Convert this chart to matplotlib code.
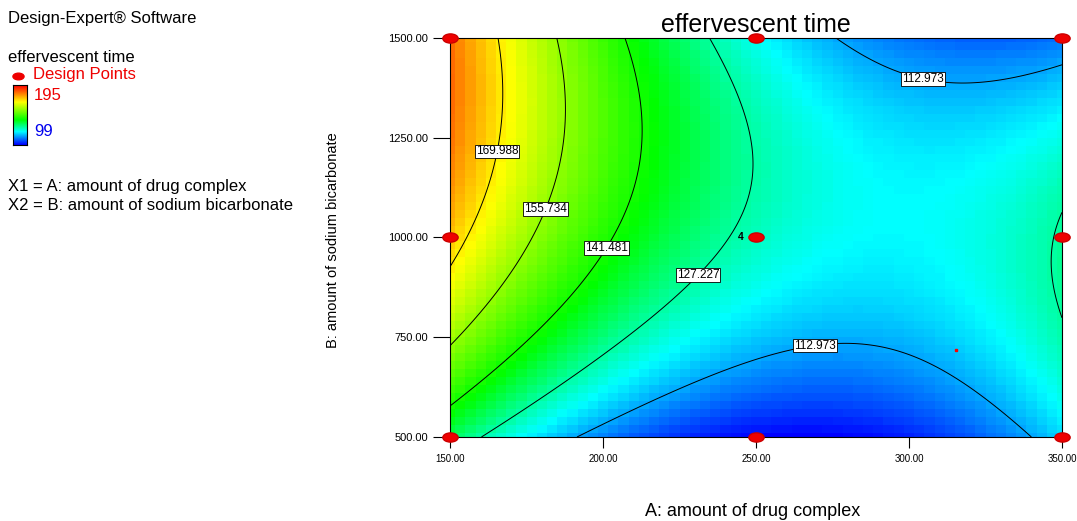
import numpy as np
import matplotlib.pyplot as plt
from matplotlib.colors import LinearSegmentedColormap
from matplotlib.path import Path

plt.rcParams['font.family'] = ['Liberation Sans', 'DejaVu Sans']

# design points and the model's predicted effervescent time at each
design_A = [150, 250, 350, 150, 250, 350, 150, 250, 350]
design_B = [500, 500, 500, 1000, 1000, 1000, 1500, 1500, 1500]
response = [133, 99.6, 117, 174, 125, 128, 183, 121, 108.6]

levels = [112.973, 127.227, 141.481, 155.734, 169.988]
zmin, zmax = 99, 195
center_runs = '4'


def terms(a, b):
    return [np.ones_like(a), a, b, a * b, a * a, b * b, a * a * b, a * b * b, a * a * b * b]


# full 3x3 model in coded units
ca = (np.array(design_A) - 250) / 100
cb = (np.array(design_B) - 1000) / 500
coef, *_ = np.linalg.lstsq(np.column_stack(terms(ca, cb)), np.array(response), rcond=None)


def model(a, b):
    return sum(c * t for c, t in zip(coef, terms(a, b)))


W, H = 1077, 521
fig = plt.figure(figsize=(W / 100, H / 100), dpi=100)
ax = fig.add_axes([450 / W, 1 - 437 / H, 612 / W, 399 / H])

cmap = LinearSegmentedColormap.from_list('de', [(0, '#0000ff'), (0.22, '#00ffff'), (0.42, '#00ff00'),
                                                (0.72, '#ffff00'), (1, '#ff0000')])

GA, GB = np.meshgrid(np.linspace(-1, 1, 61), np.linspace(-1, 1, 51))
ax.pcolormesh(250 + 100 * GA, 1000 + 500 * GB, model(GA, GB), cmap=cmap, vmin=zmin, vmax=zmax,
              shading='nearest')

FA, FB = np.meshgrid(np.linspace(-1, 1, 300), np.linspace(-1, 1, 300))
cs = ax.contour(250 + 100 * FA, 1000 + 500 * FB, model(FA, FB), levels=levels, colors='black',
                linewidths=0.7)
lab_pos = [(164, 1218), (181, 1073), (200, 980), (230, 915), (305, 1414), (269, 742)]
texts = ax.clabel(cs, fmt='%.3f', fontsize=8.5, inline=False, manual=lab_pos)
for t in texts:
    t.set_rotation(0)
    t.set_bbox(dict(facecolor='white', edgecolor='black', linewidth=0.6, pad=0.6))

ax.set_xlim(150, 350)
ax.set_ylim(500, 1500)
ax.set_xticks([150, 200, 250, 300, 350])
ax.set_yticks([500, 750, 1000, 1250, 1500])
ax.xaxis.set_major_formatter('{x:.2f}')
ax.yaxis.set_major_formatter('{x:.2f}')
ax.tick_params(axis='x', labelsize=7, length=8, width=0.8, pad=4)
ax.tick_params(axis='y', labelsize=8, length=12, width=0.8, pad=4)
for s in ax.spines.values():
    s.set_linewidth(0.8)

unit = Path.unit_circle()
ell = Path(unit.vertices * [1, 0.6], unit.codes)
ax.plot(design_A, design_B, ls='none', marker=ell, markersize=11, color='#ee0000',
        mec='#cc0000', clip_on=False, zorder=5)
ax.text(246, 1000, center_runs, fontsize=7.5, fontweight='bold', ha='right', va='center', zorder=6)
ax.plot([315.5], [719], ls='none', marker='s', markersize=1.5, color='red')

ax.set_title('effervescent time', fontsize=18, pad=4)


def fx(x):
    return x / W


def fy(y):
    return 1 - y / H


fig.text(fx(8), fy(19), 'Design-Expert® Software', fontsize=12, va='center')
fig.text(fx(8), fy(57), 'effervescent time', fontsize=12, va='center')
fig.text(fx(33), fy(75), 'Design Points', fontsize=12, va='center', color='#ee0000')
fig.lines.append(plt.Line2D([fx(18)], [fy(76)], marker=ell, markersize=8, color='#ee0000',
                            transform=fig.transFigure))
cax = fig.add_axes([fx(13), fy(145), 14 / W, 60 / H])
cax.imshow(np.linspace(1, 0, 100)[:, None], aspect='auto', cmap=cmap)
cax.set_xticks([])
cax.set_yticks([])
fig.text(fx(34), fy(95), str(zmax), fontsize=12, va='center', color='#ee0000')
fig.text(fx(34), fy(132), str(zmin), fontsize=12, va='center', color='#0000ee')
fig.text(fx(8), fy(187), 'X1 = A: amount of drug complex', fontsize=12, va='center')
fig.text(fx(8), fy(206), 'X2 = B: amount of sodium bicarbonate', fontsize=12, va='center')

fig.text(fx(333), fy(240), 'B: amount of sodium bicarbonate', fontsize=10.5, rotation=90,
         ha='center', va='center')
fig.text(fx(753), fy(511), 'A: amount of drug complex', fontsize=13, ha='center', va='center')

fig.savefig('out.png', dpi=100)
